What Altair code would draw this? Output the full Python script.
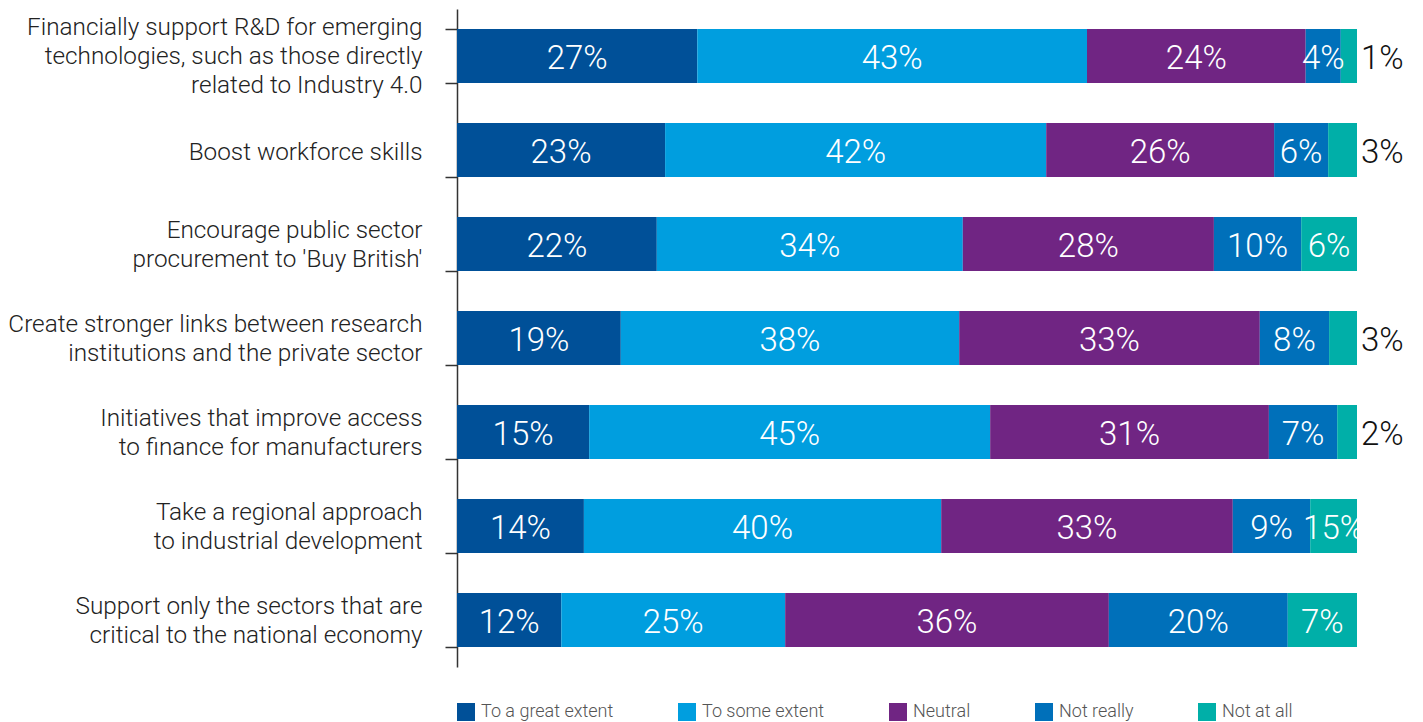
import altair as alt
import pandas as pd

categories = [
    "Financially support R&D for emerging|technologies, such as those directly|related to Industry 4.0",
    "Boost workforce skills",
    "Encourage public sector|procurement to 'Buy British'",
    "Create stronger links between research|institutions and the private sector",
    "Initiatives that improve access|to finance for manufacturers",
    "Take a regional approach|to industrial development",
    "Support only the sectors that are|critical to the national economy",
]
series = ["To a great extent", "To some extent", "Neutral", "Not really", "Not at all"]

# segment shares (per cent)
great = [26.7, 23.1, 22.2, 18.2, 14.7, 14.1, 11.6]
some = [43.3, 42.3, 34.0, 37.6, 44.6, 39.7, 24.9]
neutral = [24.3, 25.3, 27.9, 33.4, 31.0, 32.4, 36.0]
not_really = [3.9, 6.0, 9.7, 7.7, 7.6, 8.6, 19.9]
not_at_all = [1.8, 3.2, 6.2, 3.1, 2.2, 5.2, 7.7]

# labels as printed in the reference
great_labels = ["27%", "23%", "22%", "19%", "15%", "14%", "12%"]
some_labels = ["43%", "42%", "34%", "38%", "45%", "40%", "25%"]
neutral_labels = ["24%", "26%", "28%", "33%", "31%", "33%", "36%"]
not_really_labels = ["4%", "6%", "10%", "8%", "7%", "9%", "20%"]
not_at_all_labels = ["1%", "3%", "6%", "3%", "2%", "15%", "7%"]

colors = ["#005098", "#009EDF", "#702583", "#0070BA", "#00AFA8"]

values_by_series = [great, some, neutral, not_really, not_at_all]
labels_by_series = [great_labels, some_labels, neutral_labels, not_really_labels, not_at_all_labels]
rows = []
for i, cat in enumerate(categories):
    for j, s in enumerate(series):
        rows.append({
            "category": cat,
            "series": s,
            "value": values_by_series[j][i],
            "label": labels_by_series[j][i],
            "order": j,
        })
df = pd.DataFrame(rows)

FONT = "Roboto"

base = alt.Chart(df).transform_stack(
    stack="value",
    groupby=["category"],
    as_=["x0", "x1"],
    offset="normalize",
    sort=[alt.SortField("order", order="ascending")],
)

yscale = alt.Scale(paddingInner=0.426, paddingOuter=0.213)

y_axis = alt.Axis(
    title=None,
    labelExpr="split(datum.label, '|')",
    labelOffset={
        "condition": [
            {"test": "length(split(datum.label, '|')) >= 3", "value": -29},
            {"test": "length(split(datum.label, '|')) == 2", "value": -14},
        ],
        "value": 2,
    },
    tickBand="extent",
    tickSize=12,
    tickColor="#333333",
    tickWidth=1.5,
    domainColor="#333333",
    domainWidth=1.5,
    labelPadding=23,
    labelFontSize=24.3,
    labelLineHeight=29,
    labelColor="#222222",
    labelFont=FONT,
    labelFontWeight=300,
    labelAlign="right",
    labelBaseline="middle",
    labelLimit=600,
    grid=False,
)

y_enc = alt.Y("category:N", sort=categories, scale=yscale, axis=y_axis)
xscale = alt.Scale(domain=[0, 1], nice=False, zero=True)

bars = base.mark_bar().encode(
    x=alt.X("x0:Q", scale=xscale, axis=None),
    x2="x1:Q",
    y=y_enc,
    color=alt.Color(
        "series:N",
        scale=alt.Scale(domain=series, range=colors),
        sort=series,
        legend=alt.Legend(
            title=None,
            orient="none",
            legendX=0,
            legendY=694,
            direction="horizontal",
            columns=5,
            columnPadding=64,
            symbolType="square",
            symbolSize=324,
            symbolStrokeWidth=0,
            symbolOpacity=1,
            labelFontSize=18,
            labelColor="#555555",
            labelFont=FONT,
            labelFontWeight=300,
            labelOffset=6,
            padding=0,
        ),
    ),
    order=alt.Order("order:Q"),
)

txt = base.transform_calculate(mid="(datum.x0 + datum.x1) / 2")

inside = txt.transform_filter("datum.value > 3.5").mark_text(
    color="white", fontSize=33, font=FONT, fontWeight=300, align="center", baseline="middle", dy=3
).encode(
    x=alt.X("mid:Q", scale=xscale, axis=None),
    y=y_enc,
    text="label:N",
)

outside = txt.transform_filter("datum.value <= 3.5").mark_text(
    color="#111111", fontSize=33, font=FONT, fontWeight=300, align="left", baseline="middle", dx=4, dy=3
).encode(
    x=alt.X("x1:Q", scale=xscale, axis=None),
    y=y_enc,
    text="label:N",
)

chart = alt.layer(bars, inside, outside).properties(
    width=900,
    height=658,
    padding={"left": 449, "top": 1, "right": 58, "bottom": 55},
    autosize=alt.AutoSizeParams(type="none"),
).configure_view(stroke=None)

chart.save("out.html", embed_options={"renderer": "svg", "actions": False})
